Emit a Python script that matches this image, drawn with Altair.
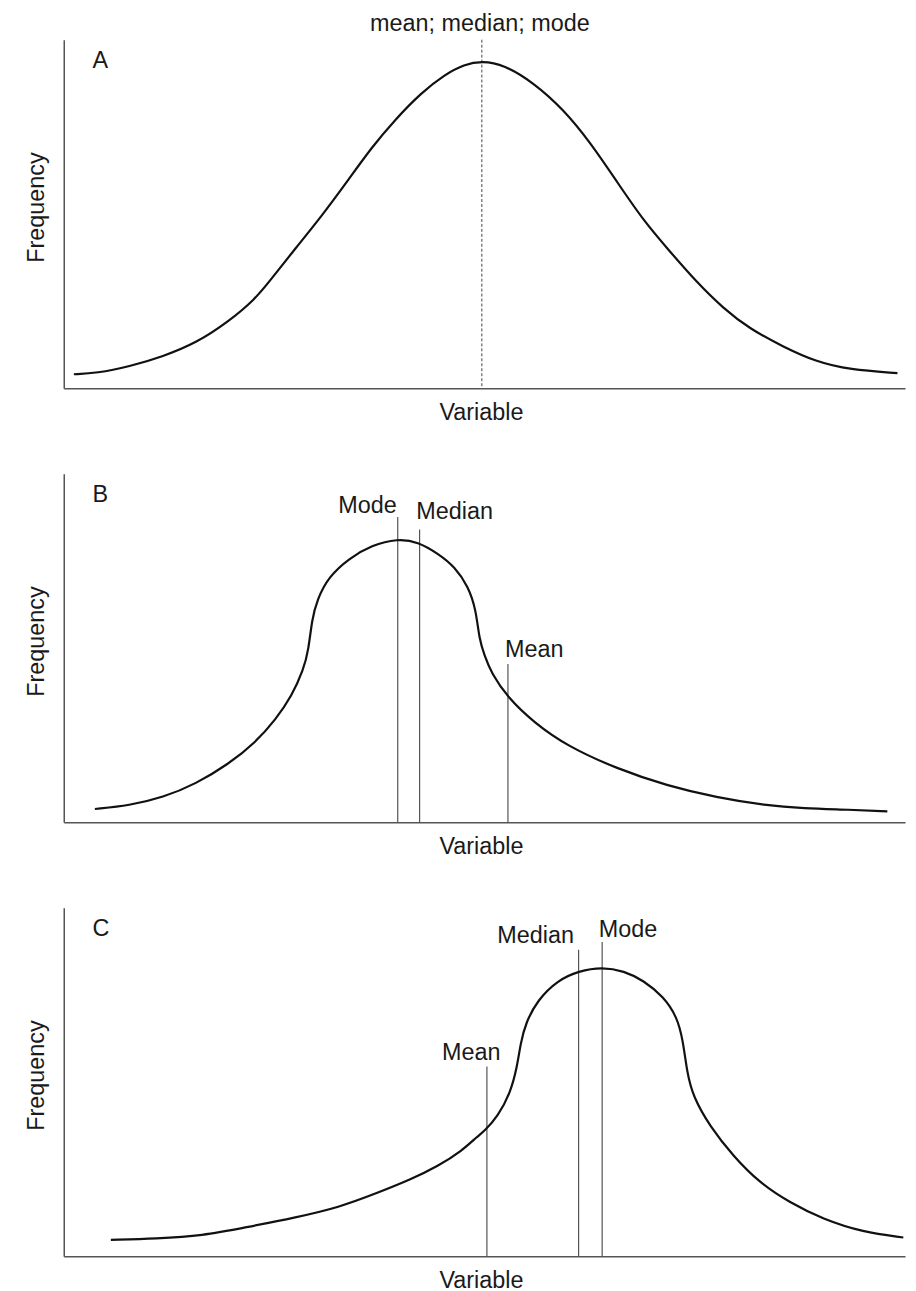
import altair as alt
import pandas as pd

FONT = "Liberation Sans"
FS = 23.5
INK = "#1a1a1a"

# ---- Panel A: symmetric distribution (Variable 0-100, Frequency 0-100) ----
a_x = [1.2, 3.9, 7.8, 11.8, 15.7, 19.6, 22.8, 24.4, 27.5, 30.7, 33.9, 36.6, 39.4, 42.5, 45.3, 47.6,
       49.7, 52.3, 55.9, 59.4, 62.6, 65.8, 68.9, 72.1, 75.2, 78.4, 81.5, 85.5, 89.4, 93.4, 99.1]
a_y = [4.0, 4.3, 6.2, 9.1, 12.9, 19.1, 25.7, 30.5, 40.0, 49.5, 60.0, 69.1, 77.1, 84.8, 90.0, 92.9,
       93.9, 92.9, 87.6, 80.0, 70.5, 59.1, 48.1, 39.1, 30.5, 22.9, 17.1, 11.9, 7.6, 5.3, 4.3]
a_center = 49.7  # mean = median = mode
a_center_label = "mean; median; mode"

# ---- Panel B: positively skewed ----
b_x = [3.7, 7.8, 11.8, 15.7, 19.6, 22.8, 25.2, 27.1, 28.5, 29.1, 29.5, 30.1, 31.5, 33.9, 36.6, 39.7,
       42.1, 44.5, 46.5, 48.1, 49.0, 49.4, 50.0, 50.8, 52.8, 55.9, 59.8, 65.8, 71.7, 77.6, 83.5, 87.9,
       93.4, 97.9]
b_y = [3.8, 4.8, 7.1, 11.0, 16.7, 22.9, 29.5, 36.2, 43.8, 49.5, 58.1, 63.8, 70.5, 75.7, 79.5, 81.4,
       80.5, 77.1, 73.3, 67.6, 61.0, 52.4, 48.0, 42.9, 35.7, 28.6, 21.9, 15.3, 10.5, 7.1, 4.8, 4.0,
       3.6, 3.1]
b_stats = ["Mode", "Median", "Mean"]
b_stat_x = [39.7, 42.3, 52.8]
b_stat_top = [87.6, 84.0, 45.4]

# ---- Panel C: negatively skewed ----
c_x = [5.6, 11.0, 16.5, 21.6, 27.5, 32.7, 37.4, 41.3, 44.5, 47.3, 49.2, 50.0, 51.6, 53.1, 53.9, 54.3,
       54.9, 56.3, 58.7, 61.2, 64.0, 66.6, 68.9, 71.3, 72.9, 73.6, 74.1, 74.8, 76.8, 79.6, 82.7, 86.3,
       90.2, 95.0, 99.8]
c_y = [4.7, 5.1, 5.9, 8.3, 11.1, 14.0, 18.3, 22.1, 25.9, 30.2, 34.5, 35.9, 40.2, 46.9, 54.5, 61.1,
       66.9, 73.5, 79.2, 81.9, 83.0, 81.9, 79.2, 74.5, 68.7, 62.1, 52.6, 45.9, 37.3, 28.7, 21.1, 15.4,
       10.7, 6.9, 5.4]
c_stats = ["Mean", "Median", "Mode"]
c_stat_x = [50.3, 61.2, 64.0]
c_stat_top = [54.5, 88.0, 90.2]

panel_letters = ["A", "B", "C"]

W, H = 845, 350
xs = alt.Scale(domain=[0, 100], nice=False, zero=False)
ys = alt.Scale(domain=[0, 100], nice=False, zero=False)


def X(field):
    return alt.X(field, scale=xs,
                 axis=alt.Axis(title="Variable", titleX=419, titlePadding=31))


def Y(field):
    return alt.Y(field, scale=ys,
                 axis=alt.Axis(title="Frequency", titleY=168, titlePadding=20.7))


def panel(cx, cy, letter, stats=None, label_styles=None, center=None):
    curve_df = pd.DataFrame({"x": cx, "y": cy})
    layers = []
    if center is not None:
        cdf = pd.DataFrame({"x": [center], "top": [100.0], "label": [a_center_label]})
        layers.append(
            alt.Chart(cdf).mark_rule(color="#444", strokeWidth=1, strokeDash=[3, 2])
            .encode(x=X("x:Q"), y=Y("top:Q"), y2=alt.datum(0))
        )
        layers.append(
            alt.Chart(cdf).mark_text(font=FONT, fontSize=FS, color=INK, baseline="alphabetic",
                                     align="center", dx=-2, dy=-8.4)
            .encode(x=X("x:Q"), y=Y("top:Q"), text="label:N")
        )
    if stats is not None:
        sdf = pd.DataFrame({"stat": stats[0], "x": stats[1], "top": stats[2]})
        layers.append(
            alt.Chart(sdf).mark_rule(color="#555", strokeWidth=1.2)
            .encode(x=X("x:Q"), y=Y("top:Q"), y2=alt.datum(0))
        )
        for name, (align, dx, dy) in label_styles.items():
            layers.append(
                alt.Chart(sdf).transform_filter(alt.datum.stat == name)
                .mark_text(font=FONT, fontSize=FS, color=INK, baseline="alphabetic",
                           align=align, dx=dx, dy=dy)
                .encode(x=X("x:Q"), y=Y("top:Q"), text="stat:N")
            )
    layers.append(
        alt.Chart(curve_df).mark_line(color="#111", strokeWidth=2.2, interpolate="basis")
        .encode(x=X("x:Q"), y=Y("y:Q"))
    )
    ldf = pd.DataFrame({"letter": [letter], "x": [0.0], "top": [100.0]})
    layers.append(
        alt.Chart(ldf).mark_text(font=FONT, fontSize=FS, color=INK, baseline="alphabetic",
                                 align="left", dx=29, dy=28)
        .encode(x=X("x:Q"), y=Y("top:Q"), text="letter:N")
    )
    return alt.layer(*layers).properties(width=W, height=H)


pa = panel(a_x, a_y, panel_letters[0], center=a_center)
pb = panel(b_x, b_y, panel_letters[1], stats=(b_stats, b_stat_x, b_stat_top),
           label_styles={"Mode": ("right", -1, -4.3),
                         "Median": ("left", -3.3, -11),
                         "Mean": ("left", -3, -6.7)})
pc = panel(c_x, c_y, panel_letters[2], stats=(c_stats, c_stat_x, c_stat_top),
           label_styles={"Median": ("right", -4.7, -7),
                         "Mode": ("left", -3.3, -5),
                         "Mean": ("left", -45, -6.7)})

chart = (
    alt.vconcat(pa, pb, pc, spacing=50)
    .properties(padding={"left": 16, "top": 1, "right": 0, "bottom": 0}, background="white")
    .configure_view(stroke=None)
    .configure_axis(labels=False, ticks=False, grid=False, domainColor="#555", domainWidth=1.5,
                    titleFont=FONT, titleFontSize=FS, titleFontWeight="normal", titleColor=INK,
                    titleBaseline="alphabetic")
)

chart.save("out.html", embed_options={"renderer": "svg", "actions": False})
